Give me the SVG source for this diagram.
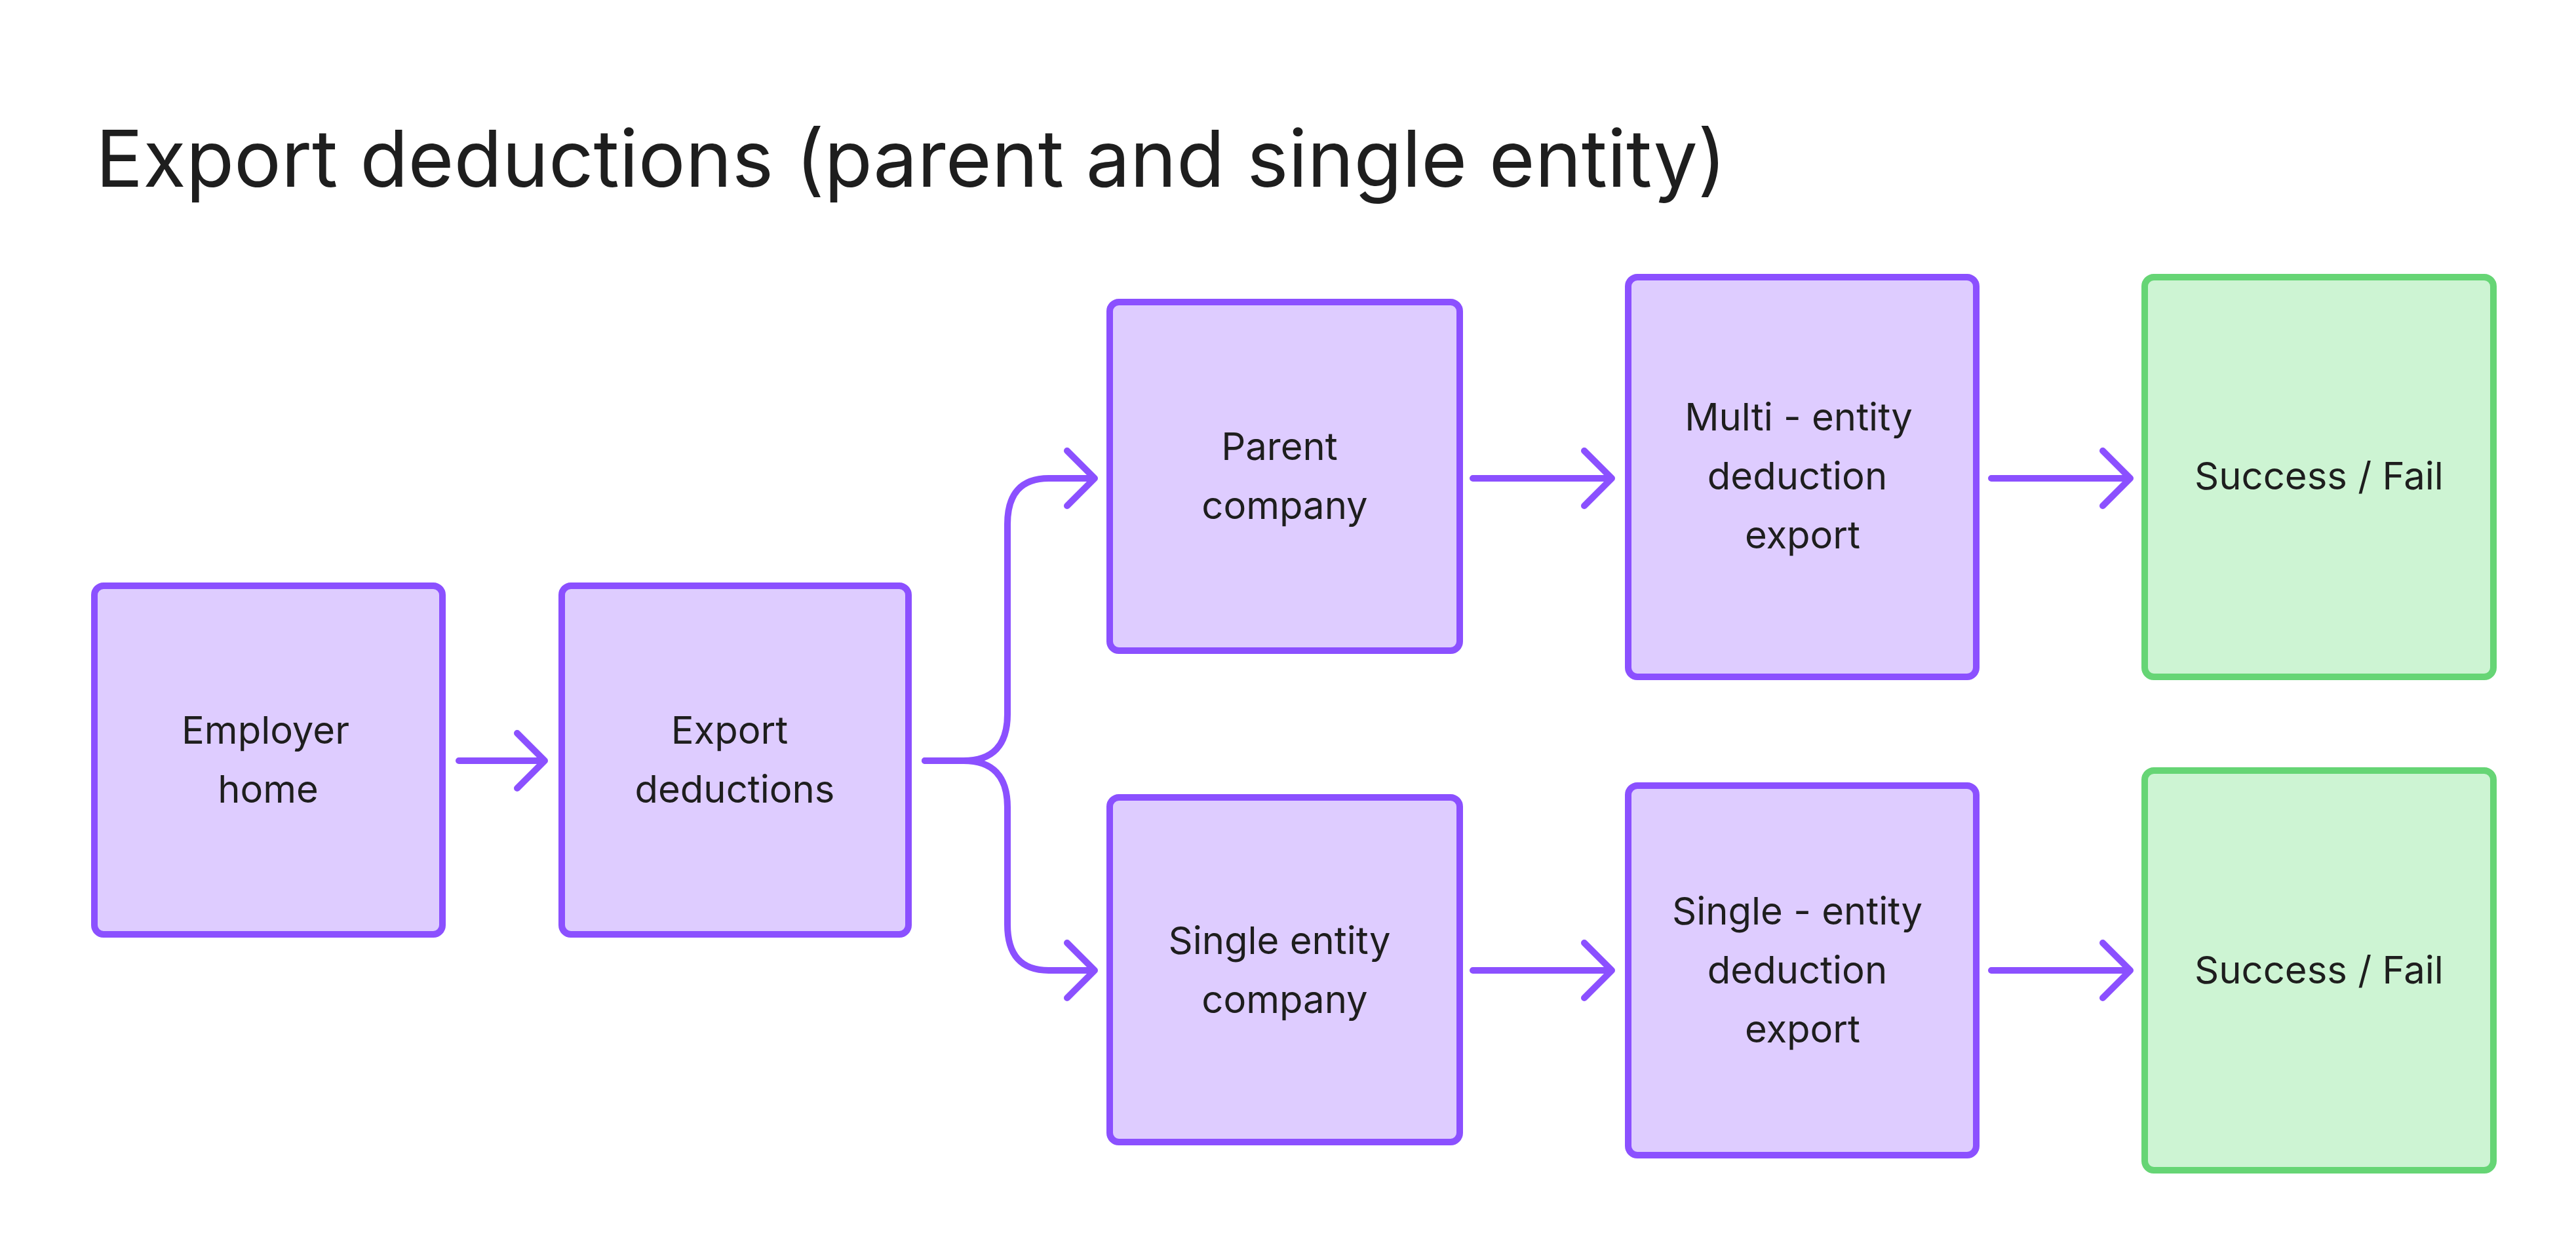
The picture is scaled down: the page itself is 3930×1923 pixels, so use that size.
<svg xmlns="http://www.w3.org/2000/svg" width="3930" height="1923" viewBox="0 0 3930 1923">
<style>
.p{fill:#DECCFF;stroke:#8B50FF;stroke-width:10}
.g{fill:#CDF4D3;stroke:#66D575;stroke-width:10}
.t{font-family:Inter,"Liberation Sans",sans-serif;font-size:58px;fill:#1e1e1e;text-anchor:middle}
.c{fill:none;stroke:#8B50FF;stroke-width:10;stroke-linecap:round;stroke-linejoin:round}
</style>
<rect width="3930" height="1923" fill="#fff"/>
<text x="146" y="285" font-family="Inter,'Liberation Sans',sans-serif" font-size="120" fill="#1e1e1e">Export deductions (parent and single entity)</text>
<g id="employer-home"><rect class="p" x="144" y="894" width="531" height="532" rx="14"/><text class="t" x="405" y="1135">Employer</text><text class="t" x="409" y="1225">home</text></g>
<g id="export-deductions"><rect class="p" x="857" y="894" width="529" height="532" rx="14"/><text class="t" x="1113" y="1135">Export</text><text class="t" x="1121" y="1225">deductions</text></g>
<g id="parent-company"><rect class="p" x="1693" y="461" width="534" height="532" rx="14"/><text class="t" x="1952" y="702">Parent</text><text class="t" x="1960" y="792">company</text></g>
<g id="multi-export"><rect class="p" x="2484" y="423" width="531" height="610" rx="14"/><text class="t" x="2744" y="657">Multi - entity</text><text class="t" x="2742" y="747">deduction</text><text class="t" x="2750" y="837">export</text></g>
<g id="success-1"><rect class="g" x="3272" y="423" width="532" height="610" rx="14"/><text class="t" x="3538" y="747">Success / Fail</text></g>
<g id="single-company"><rect class="p" x="1693" y="1217" width="534" height="526" rx="14"/><text class="t" x="1952" y="1456">Single entity</text><text class="t" x="1960" y="1546">company</text></g>
<g id="single-export"><rect class="p" x="2484" y="1199" width="531" height="564" rx="14"/><text class="t" x="2742" y="1411">Single - entity</text><text class="t" x="2742" y="1501">deduction</text><text class="t" x="2750" y="1591">export</text></g>
<g id="success-2"><rect class="g" x="3272" y="1176" width="532" height="610" rx="14"/><text class="t" x="3538" y="1501">Success / Fail</text></g>
<g id="connectors">
<path class="c" d="M700 1161H831M789 1119L831 1161L789 1203"/>
<path class="c" d="M1411 1161H1470Q1537 1161 1537 1090V800Q1537 730 1600 730H1670M1628 688L1670 730L1628 772"/>
<path class="c" d="M1411 1161H1470Q1537 1161 1537 1232V1411Q1537 1481 1600 1481H1670M1628 1439L1670 1481L1628 1523"/>
<path class="c" d="M2247 730H2459M2417 688L2459 730L2417 772"/>
<path class="c" d="M2247 1481H2459M2417 1439L2459 1481L2417 1523"/>
<path class="c" d="M3038 730H3250M3208 688L3250 730L3208 772"/>
<path class="c" d="M3038 1481H3250M3208 1439L3250 1481L3208 1523"/>
</g>
</svg>
